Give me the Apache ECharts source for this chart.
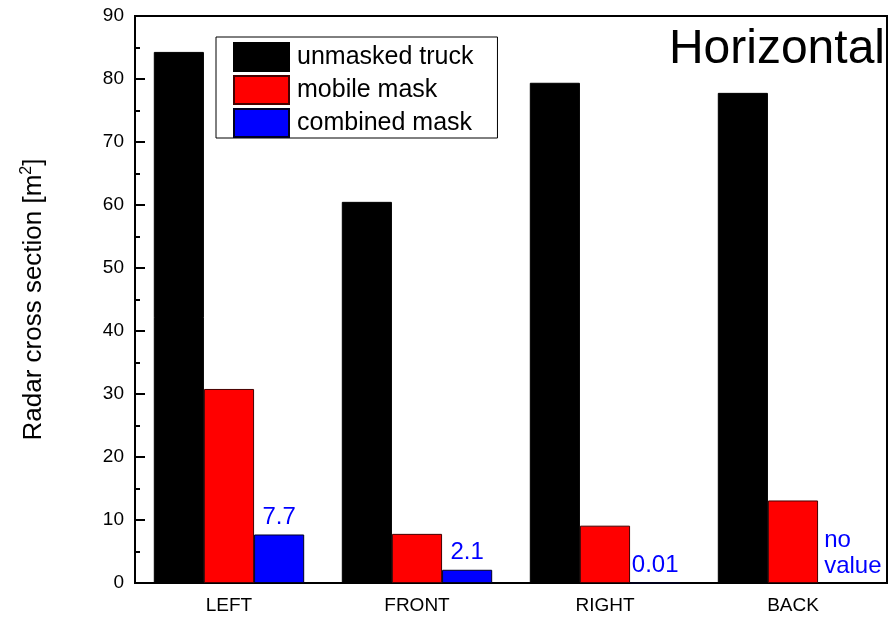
<!DOCTYPE html>
<html>
<head>
<meta charset="utf-8">
<script src="https://cdn.jsdelivr.net/npm/echarts@6/dist/echarts.min.js"></script>
<style>
  html, body { margin: 0; padding: 0; background: #fff; }
  #chart { width: 889px; height: 631px; }
</style>
</head>
<body>
<div id="chart"></div>
<script>
// data
var categories = ['LEFT', 'FRONT', 'RIGHT', 'BACK'];
var unmasked = [84.3, 60.5, 79.4, 77.8];
var mobileMask = [30.8, 7.8, 9.1, 13.1];
var combinedMask = [7.7, 2.1, 0.01, 0];
var combinedLabels = ['7.7', '2.1', '0.01', 'no\nvalue'];
var yTicks = [0, 10, 20, 30, 40, 50, 60, 70, 80, 90];

var font = 'Liberation Sans, Arial, sans-serif';

// the "no value" note sits left-aligned in the empty slot
var combinedData = combinedMask.map(function (v, i) {
  if (i === combinedMask.length - 1) {
    return { value: v, itemStyle: { borderWidth: 0 }, label: { align: 'left', offset: [-19, 0] } };
  }
  return v;
});

var chart = echarts.init(document.getElementById('chart'));

var option = {
  animation: false,
  textStyle: { fontFamily: font },
  title: {
    text: 'Horizontal',
    right: 4,
    top: 26,
    padding: 0,
    textStyle: { fontFamily: font, fontSize: 48, fontWeight: 'normal', color: '#000' }
  },
  legend: {
    left: 216,
    top: 37,
    orient: 'vertical',
    icon: 'rect',
    itemWidth: 55,
    itemHeight: 28,
    itemGap: 3,
    padding: [5, 24, 0, 17],
    borderColor: '#000',
    borderWidth: 1,
    textStyle: { fontFamily: font, fontSize: 25, lineHeight: 28, color: '#000', padding: [0, 0, 0, 3] },
    data: ['unmasked truck', 'mobile mask', 'combined mask']
  },
  grid: {
    left: 135,
    top: 16,
    right: 2,
    bottom: 48,
    show: true,
    borderColor: '#000',
    borderWidth: 2,
    containLabel: false
  },
  xAxis: {
    type: 'category',
    data: categories,
    axisLine: { lineStyle: { color: '#000', width: 2 } },
    axisTick: { show: false },
    axisLabel: { color: '#000', fontSize: 19, margin: 13, fontFamily: font }
  },
  yAxis: {
    type: 'value',
    min: yTicks[0],
    max: yTicks[yTicks.length - 1],
    interval: 10,
    name: '{a|Radar cross section [m}{s|2}{a|]}',
    nameLocation: 'middle',
    nameGap: 87,
    nameTextStyle: {
      rich: {
        a: { fontSize: 26, color: '#000', fontFamily: font },
        s: { fontSize: 16, color: '#000', fontFamily: font, verticalAlign: 'top', padding: [0, 0, 13, 0] }
      }
    },
    axisLine: { show: true, lineStyle: { color: '#000', width: 2 } },
    axisTick: { show: true, inside: true, length: 10, lineStyle: { color: '#000', width: 2 } },
    minorTick: { show: true, splitNumber: 2, length: 5, lineStyle: { color: '#000', width: 2 } },
    splitLine: { show: false },
    axisLabel: { color: '#000', fontSize: 19, margin: 11, fontFamily: font }
  },
  series: [
    {
      name: 'unmasked truck',
      type: 'bar',
      data: unmasked,
      barGap: '0%',
      barCategoryGap: '20%',
      itemStyle: { color: '#000', borderColor: '#000', borderWidth: 1 }
    },
    {
      name: 'mobile mask',
      type: 'bar',
      data: mobileMask,
      itemStyle: { color: '#ff0000', borderColor: '#400', borderWidth: 1 }
    },
    {
      name: 'combined mask',
      type: 'bar',
      data: combinedData,
      itemStyle: { color: '#0000ff', borderColor: '#002', borderWidth: 1 },
      label: {
        show: true,
        position: 'top',
        distance: 4,
        align: 'center',
        color: '#0000ff',
        fontSize: 24,
        lineHeight: 26,
        fontFamily: font,
        formatter: function (p) { return combinedLabels[p.dataIndex]; }
      }
    }
  ]
};

chart.setOption(option);
</script>
</body>
</html>
